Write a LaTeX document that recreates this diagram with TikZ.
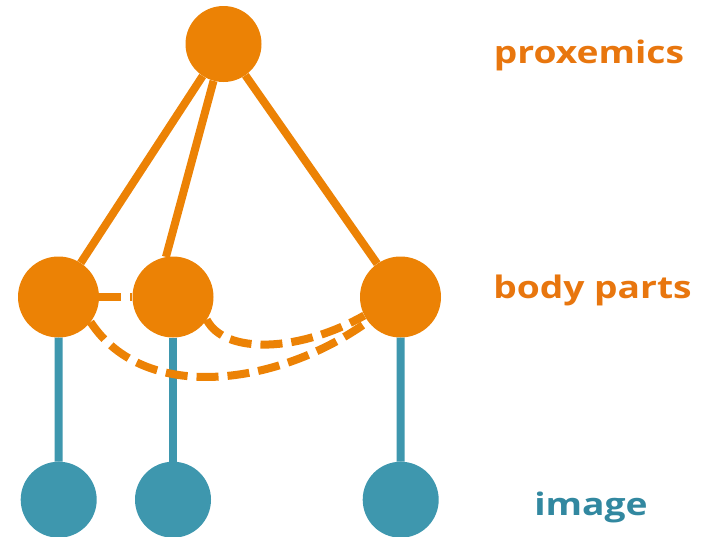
\documentclass[tikz,border=0pt]{standalone}
\usepackage{fontspec}
\setmainfont{Open Sans}
\definecolor{orng}{RGB}{236,130,5}
\definecolor{orngtxt}{RGB}{232,118,14}
\definecolor{teal1}{RGB}{62,151,174}
\definecolor{tealtxt}{RGB}{50,136,160}
\begin{document}
\begin{tikzpicture}[x=1pt,y=-1pt,
  orangedot/.style={circle,fill=orng,inner sep=0pt,minimum size=81pt},
  topdot/.style={circle,fill=orng,inner sep=0pt,minimum size=76pt},
  tealdot/.style={circle,fill=teal1,inner sep=0pt,minimum size=76pt},
  solidlink/.style={draw=orng,line width=8pt},
  dashlink/.style={draw=orng,line width=8pt,dash pattern=on 22pt off 9pt},
  teallink/.style={draw=teal1,line width=8pt},
  lbl/.style={font=\fontsize{31}{36}\selectfont\bfseries,anchor=base,inner sep=0pt}]
\useasboundingbox (0,0) rectangle (706,536);
\clip (0,0) rectangle (706,536);
\node[topdot] (t) at (223.5,44) {};
\node[orangedot] (l) at (58.5,297) {};
\node[orangedot] (m) at (173,297) {};
\node[orangedot] (r) at (400.5,297) {};
\node[tealdot] (il) at (58.7,499.7) {};
\node[tealdot] (im) at (173,499.7) {};
\node[tealdot] (ir) at (400.7,499.7) {};
\draw[solidlink] (t) -- (l);
\draw[solidlink] (t) -- (m.100);
\draw[solidlink] (t) -- (r);
\draw[teallink] (l) -- (il);
\draw[teallink] (m) -- (im);
\draw[teallink] (r) -- (ir);
\draw[dashlink] (l) -- (m);
\draw[dashlink] (l.-38) .. controls (145,405) and (280,385) .. (r.-143);
\draw[dashlink] (m.-34) .. controls (225,355) and (300,352) .. (r.-153);
\node[lbl,text=orngtxt] (p) at (589,63) {\scalebox{1.2}[1]{proxemics}};
\node[lbl,text=orngtxt] (b) at (592.5,298) {\scalebox{1.2}[1]{body parts}};
\node[lbl,text=tealtxt] (i) at (591,515) {\scalebox{1.2}[1]{image}};
\end{tikzpicture}
\end{document}
